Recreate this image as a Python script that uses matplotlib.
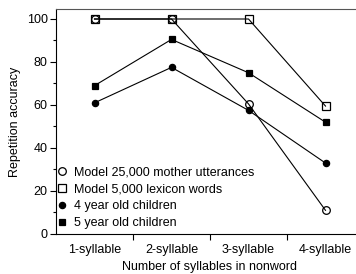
import matplotlib
matplotlib.use("Agg")
import matplotlib.pyplot as plt
from matplotlib.lines import Line2D
from matplotlib.ticker import MultipleLocator, FixedLocator

plt.rcParams['font.family'] = ['Liberation Sans', 'DejaVu Sans']

categories = ["1-syllable", "2-syllable", "3-syllable", "4-syllable"]
model_25000 = [100, 100, 60.5, 11]
model_5000 = [100, 100, 100, 59.5]
children_4 = [61, 77.5, 57.5, 33]
children_5 = [69, 90.5, 75, 52]

series = [
    ("Model 25,000 mother utterances", model_25000, 'o', 'none', 5.5),
    ("Model 5,000 lexicon words", model_5000, 's', 'none', 5.5),
    ("4 year old children", children_4, 'o', 'black', 4.5),
    ("5 year old children", children_5, 's', 'black', 4.5),
]

fig = plt.figure(figsize=(3.56, 2.74), dpi=100)
ax = fig.add_axes([56/356, 40/274, 308/356, 225/274])

x = list(range(len(categories)))
handles = []
for label, vals, m, fc, ms in series:
    ax.plot(x, vals, color='black', lw=0.8, marker=m, markerfacecolor=fc,
            markeredgecolor='black', markersize=ms, markeredgewidth=0.9)
    handles.append(Line2D([], [], ls='none', marker=m, markerfacecolor=fc,
                          markeredgecolor='black', markersize=ms, markeredgewidth=0.9,
                          label=label))

ax.set_xlim(-0.5, 3.5)
ax.set_ylim(0, 104.65)
ax.set_xticks(x)
ax.set_xticklabels(categories, fontsize=9)
ax.xaxis.set_major_locator(FixedLocator(x))
ax.xaxis.set_minor_locator(FixedLocator([0.5, 1.5, 2.5]))
ax.tick_params(axis='x', which='major', length=0, pad=7)
ax.tick_params(axis='x', which='minor', length=4, width=0.8, direction='out')
ax.yaxis.set_major_locator(MultipleLocator(20))
ax.yaxis.set_minor_locator(MultipleLocator(10))
ax.tick_params(axis='y', which='major', length=4, width=0.8, labelsize=9, pad=2)
ax.tick_params(axis='y', which='minor', length=2.5, width=0.8)
ax.spines['right'].set_visible(False)
for s in ['left', 'bottom', 'top']:
    ax.spines[s].set_linewidth(0.8)
ax.spines['top'].set_color('#555555')

ax.set_ylabel("Repetition accuracy", fontsize=9, labelpad=4)
ax.set_xlabel("Number of syllables in nonword", fontsize=9, labelpad=4)

ax.legend(handles=handles, loc='lower left', bbox_to_anchor=(-0.02, -0.012),
          frameon=False, fontsize=9, handlelength=0.8, handletextpad=0.5,
          labelspacing=0.4, borderaxespad=0.2)

fig.savefig("out.png", dpi=100)
